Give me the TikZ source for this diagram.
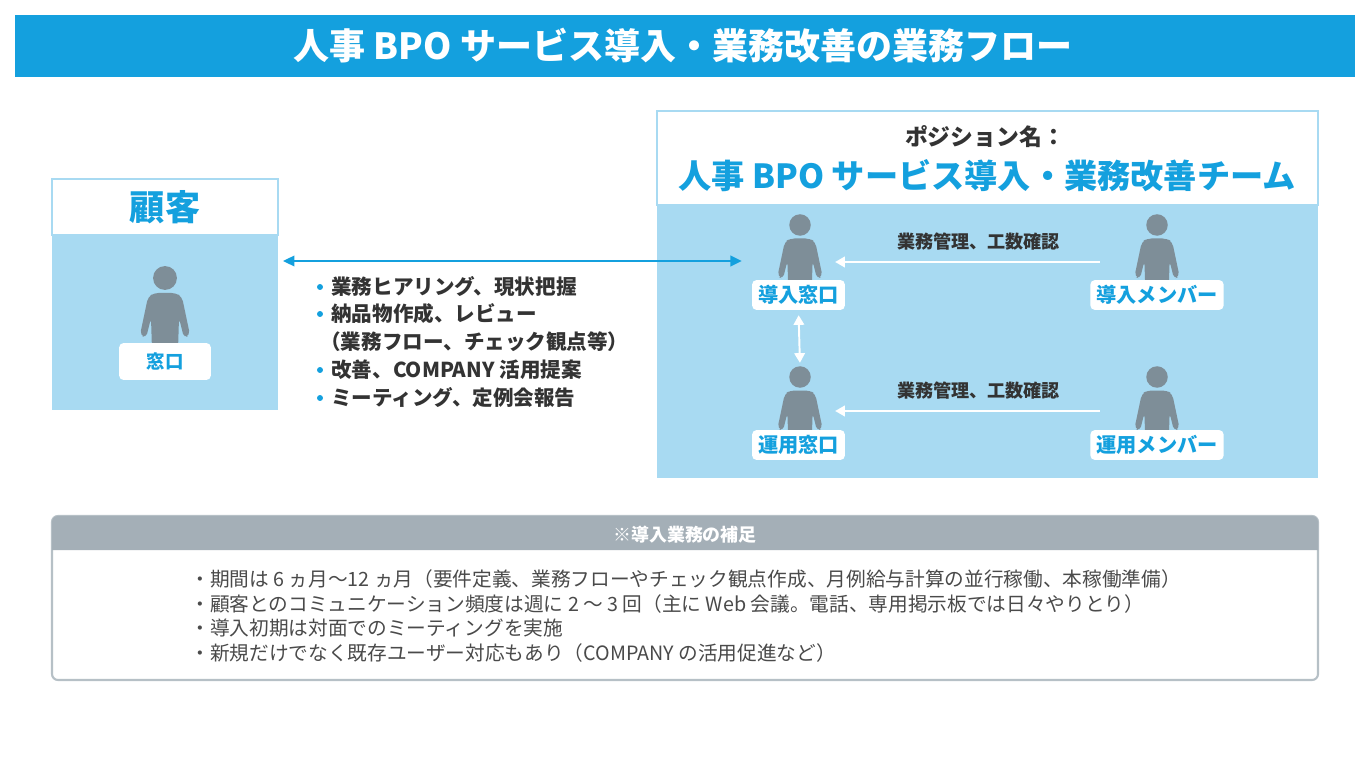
\documentclass[tikz,border=0pt]{standalone}
\usepackage{fontspec}
\setmainfont{Noto Sans CJK JP}
\usetikzlibrary{arrows.meta}

\definecolor{titleblue}{HTML}{14A0DE}
\definecolor{paleblue}{HTML}{A8DAF2}
\definecolor{persongray}{HTML}{7E8E98}
\definecolor{textdark}{HTML}{333333}
\definecolor{notegray}{HTML}{A4AFB7}
\definecolor{noteline}{HTML}{B6C0C6}
\definecolor{notetext}{HTML}{4A4A4A}

\tikzset{
  person/.pic={
    \fill[persongray] (0,0) circle (6.8pt);
    \fill[persongray, rounded corners=2.5pt] (-11,15) -- (11,15) -- (17,19) -- (25,57) -- (19,60) -- (14,40) -- (13,72)
      -- (-13,72) -- (-14,40) -- (-19,60) -- (-25,57) -- (-17,19) -- cycle;
  },
  namebox/.style={fill=white, rounded corners=2.5pt, text=titleblue, font=\bfseries\fontsize{11.5}{13}\selectfont,
    inner xsep=3.4pt, inner ysep=0pt, minimum height=17pt},
  spot/.style={inner sep=0pt, minimum width=26.6pt, minimum height=37.1pt},
  bluearrow/.style={{Triangle[length=6.5pt,width=6pt]}-{Triangle[length=6.5pt,width=6pt]}, draw=titleblue, line width=1.1pt},
  whitearrow/.style={-{Triangle[length=5.5pt,width=6pt]}, draw=white, line width=1.1pt},
  whitearrows/.style={{Triangle[length=5.5pt,width=6pt]}-{Triangle[length=5.5pt,width=6pt]}, draw=white, line width=1.1pt},
  itemtext/.style={anchor=west, text=textdark, font=\bfseries\fontsize{11.7}{13}\selectfont, inner sep=0pt},
  notetxt/.style={anchor=west, text=notetext, font=\fontsize{11.2}{13}\selectfont, inner sep=0pt},
  worklabel/.style={text=textdark, font=\bfseries\fontsize{10.3}{12}\selectfont},
}

\begin{document}
\begin{tikzpicture}[x=0.02cm, y=-0.02cm]
\useasboundingbox (0,0) rectangle (1365,780);

% title
\fill[titleblue] (15,15) rectangle (1355,77);
\node[text=white, font=\bfseries\fontsize{20.5}{24}\selectfont] (title) at (683,46) {人事 BPO サービス導入・業務改善の業務フロー};

% client
\draw[paleblue, line width=1pt, fill=white] (52,179) rectangle (278,235);
\fill[paleblue] (52,235) rectangle (278,410);
\node[text=titleblue, font=\bfseries\fontsize{20}{24}\selectfont] (client) at (165,207) {顧客};
\pic at (165,278) {person};
\node[namebox, font=\bfseries\fontsize{10.5}{12}\selectfont, minimum width=52.2pt, minimum height=21pt] (madoguchi) at (165,361.5) {窓口};

% team
\draw[paleblue, line width=1pt, fill=white] (657,111) rectangle (1318,205);
\fill[paleblue] (657,205) rectangle (1318,478);
\node[text=textdark, font=\bfseries\fontsize{13}{15}\selectfont] (position) at (985,137) {ポジション名：};
\node[text=titleblue, font=\bfseries\fontsize{18.9}{22}\selectfont] (team) at (987,176) {人事 BPO サービス導入・業務改善チーム};

\pic[scale=0.9] at (800,225) {person};
\pic[scale=0.9] at (1157,225) {person};
\pic[scale=0.9] at (800,377) {person};
\pic[scale=0.9] at (1157,377) {person};
\node[spot] (dounyu) at (800,247.25) {};
\node[spot] (dmember) at (1157,247.25) {};
\node[spot] (unyou) at (800,399.25) {};
\node[spot] (umember) at (1157,399.25) {};
\node[namebox] (dlab) at (798.5,295) {導入窓口};
\node[namebox] (dmlab) at (1157,295) {導入メンバー};
\node[namebox] (ulab) at (798.5,445) {運用窓口};
\node[namebox] (umlab) at (1157,445) {運用メンバー};

\coordinate (row1) at (0,262);
\coordinate (row2) at (0,411);
\draw[whitearrow, shorten <=19pt, shorten >=6.5pt] (dmember.west |- row1) -- node[worklabel, above=3pt] {業務管理、工数確認} (dounyu.east |- row1);
\draw[whitearrow, shorten <=19pt, shorten >=6.5pt] (umember.west |- row2) -- node[worklabel, above=3pt] {業務管理、工数確認} (unyou.east |- row2);
\draw[whitearrows, shorten <=2.8pt, shorten >=2pt] (dlab.south) -- (unyou.north);

% client <-> team
\coordinate (clientside) at (283,261);
\draw[bluearrow, shorten >=19.6pt] (clientside) -- (clientside -| dounyu.west);

% tasks
\fill[titleblue] (320,287) circle (1.7pt);
\fill[titleblue] (320,314) circle (1.7pt);
\fill[titleblue] (320,370) circle (1.7pt);
\fill[titleblue] (320,398) circle (1.7pt);
\node[itemtext] (task1) at (331,287) {業務ヒアリング、現状把握};
\node[itemtext] (task2) at (331,314) {納品物作成、レビュー};
\node[itemtext] (task3) at (320,342) {（業務フロー、チェック観点等）};
\node[itemtext] (task4) at (331,370) {改善、COMPANY 活用提案};
\node[itemtext] (task5) at (331,398) {ミーティング、定例会報告};

% notes
\draw[noteline, line width=1.2pt, fill=white, rounded corners=3.4pt] (52,516) rectangle (1318,680);
\fill[notegray] (52,550) [rounded corners=3.4pt] -- (52,516) -- (1318,516) [sharp corners] -- (1318,550) -- cycle;
\node[text=white, font=\bfseries\fontsize{10.2}{12}\selectfont] (notehead) at (685,535) {※導入業務の補足};
\node[notetxt] (note1) at (190,579) {・期間は 6 ヵ月～12 ヵ月（要件定義、業務フローやチェック観点作成、月例給与計算の並行稼働、本稼働準備）};
\node[notetxt] (note2) at (190,604) {・顧客とのコミュニケーション頻度は週に 2 ～ 3 回（主に Web 会議。電話、専用掲示板では日々やりとり）};
\node[notetxt] (note3) at (190,628) {・導入初期は対面でのミーティングを実施};
\node[notetxt] (note4) at (190,653) {・新規だけでなく既存ユーザー対応もあり（COMPANY の活用促進など）};
\end{tikzpicture}
\end{document}
